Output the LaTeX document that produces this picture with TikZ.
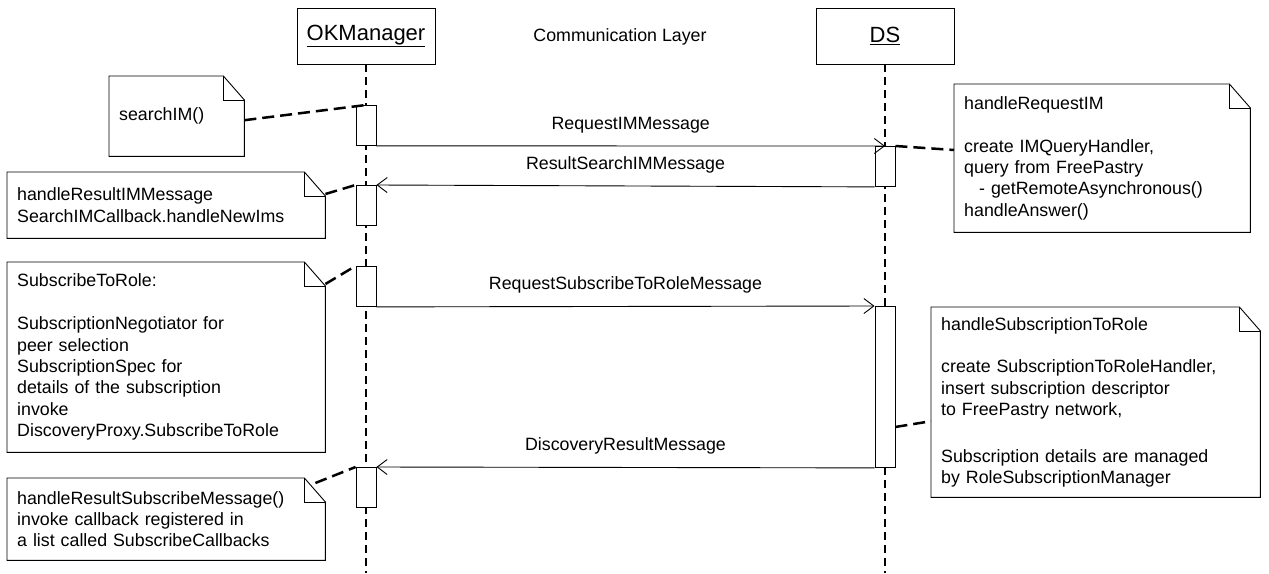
\documentclass[tikz,border=0pt]{standalone}
\usepackage{fontspec}
\setmainfont{Liberation Sans}
\usetikzlibrary{arrows.meta}

\tikzset{
    headbox/.style={draw, line width=0.9pt, minimum width=138pt, minimum height=56pt, inner sep=0pt, font=\fontsize{22}{26}\selectfont},
    lifeline/.style={line width=2pt, dash pattern=on 8pt off 5pt},
    actbox/.style={draw, line width=0.9pt, fill=white, minimum width=20pt, minimum height=40pt, inner sep=0pt, anchor=north},
    msg/.style={-{Straight Barb[length=10pt,width=15pt]}, line width=0.9pt},
    notebox/.style={anchor=north west, align=left, inner xsep=10pt, inner ysep=0pt},
    noteline/.style={line width=2.5pt, dash pattern=on 12pt off 6pt}
}
\newcommand{\notefold}[1]{%
    \draw[line width=0.9pt] (#1.north west) -- ([xshift=-21pt]#1.north east) -- ([yshift=-24pt]#1.north east) -- (#1.south east) -- (#1.south west) -- cycle;
    \draw[line width=0.9pt] ([xshift=-21pt]#1.north east) |- ([yshift=-24pt]#1.north east);%
}

\begin{document}
\begin{tikzpicture}[x=1pt, y=-1pt, font=\fontsize{17.8}{21.4}\selectfont]
    \useasboundingbox (0,0) rectangle (1269,573);

    \node[headbox] (okm) at (366,36) {\underline{OKManager}};
    \node[headbox] (ds) at (885,36) {\underline{DS}};
    \node (layer) at (620,37) {Communication Layer};

    \coordinate (okend) at (366,573);
    \coordinate (dsend) at (885,573);
    \draw[lifeline] (okm.south) -- (okend);
    \draw[lifeline] (ds.south) -- (dsend);

    \foreach \n/\y in {1/105,2/185,3/266,4/467}
	\node[actbox] (okA\n) at (366,\y) {};
    \node[actbox] (dsA1) at (885,146) {};
    \node[actbox, minimum height=161pt] (dsA2) at (885,306) {};

    \draw[msg] (okA1.south east) -- (dsA1.north) node[midway, above=9pt] {RequestIMMessage};
    \draw[msg] (dsA1.south west) -- (okA2.north east) node[midway, above=9pt] {ResultSearchIMMessage};
    \draw[msg] (okA3.south east) -- (dsA2.north west) node[midway, above=9pt] {RequestSubscribeToRoleMessage};
    \draw[msg] (dsA2.south west) -- (okA4.north east) node[midway, above=9pt] {DiscoveryResultMessage};

    \node[notebox, text width=115pt, minimum height=80pt] (searchnote) at (109,76) {searchIM()};
    \node[notebox, text width=298pt, minimum height=66pt] (resultnote) at (7,172) {handleResultIMMessage\\SearchIMCallback.handleNewIms};
    \node[notebox, text width=298pt, minimum height=190pt] (subscribenote) at (7,262) {SubscribeToRole:\\[21.4pt]SubscriptionNegotiator for\\peer selection\\SubscriptionSpec for\\details of the subscription\\invoke\\DiscoveryProxy.SubscribeToRole};
    \node[notebox, text width=298pt, minimum height=82pt] (callbacknote) at (7,478) {handleResultSubscribeMessage()\\invoke callback registered in\\a list called SubscribeCallbacks};
    \node[notebox, text width=276pt, minimum height=148pt] (requestnote) at (954,84) {handleRequestIM\\[21.4pt]create IMQueryHandler,\\query from FreePastry\\\hspace*{15pt}- getRemoteAsynchronous()\\handleAnswer()};
    \node[notebox, text width=309pt, minimum height=190pt] (rolenote) at (931,307) {handleSubscriptionToRole\\[21.4pt]create SubscriptionToRoleHandler,\\insert subscription descriptor\\to FreePastry network,\\[25pt]Subscription details are managed\\by RoleSubscriptionManager};

    \foreach \n in {searchnote,resultnote,subscribenote,callbacknote,requestnote,rolenote}
	{\notefold{\n}}

    \draw[noteline] ([yshift=-4pt]searchnote.east) -- (okA1.north);
    \draw[noteline] ([yshift=-22pt]resultnote.north east) -- (okA2.north west);
    \draw[noteline] ([yshift=-22pt]subscribenote.north east) -- (okA3.north west);
    \draw[noteline] ([xshift=-10pt,yshift=-5pt]callbacknote.north east) -- (okA4.north west);
    \draw[noteline] (dsA1.north east) -- ([yshift=-66pt]requestnote.north west);
    \draw[noteline] ([yshift=-40pt]dsA2.east) -- ([yshift=-19pt]rolenote.west);
\end{tikzpicture}
\end{document}
